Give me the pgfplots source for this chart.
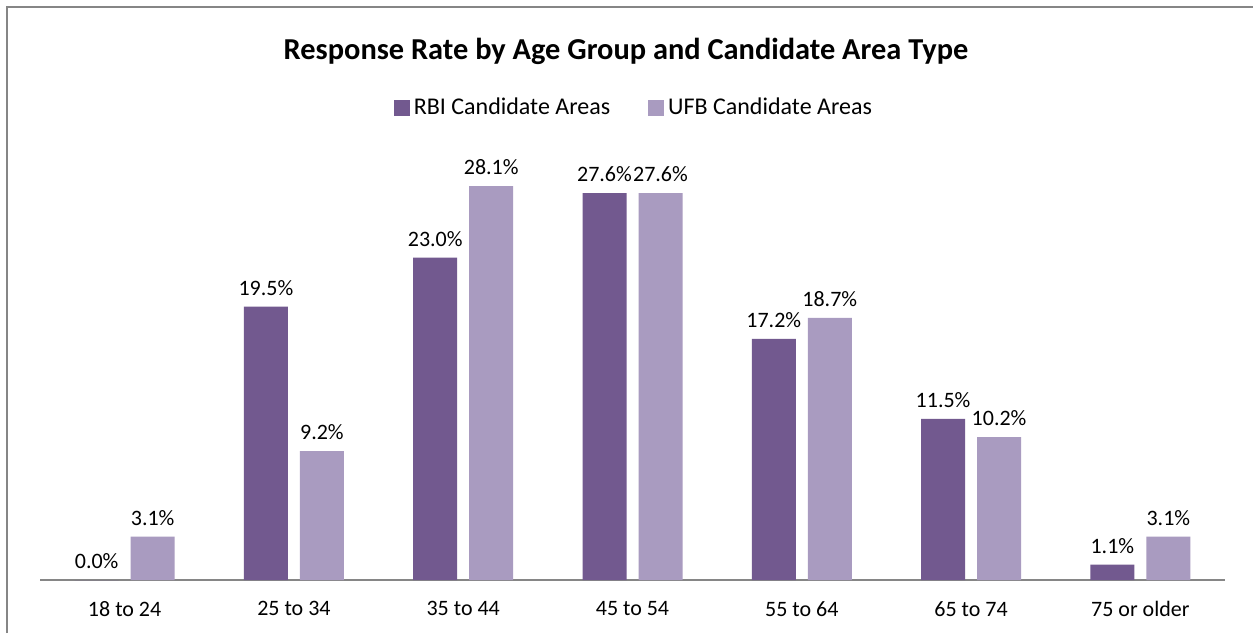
\documentclass[border=0pt]{standalone}
\usepackage{pgfplots}
\pgfplotsset{compat=1.18}
\usepackage{fontspec}
\setmainfont{Carlito}
\definecolor{rbi}{RGB}{114,89,143}
\definecolor{ufb}{RGB}{169,155,192}
\definecolor{frame}{RGB}{134,134,134}
\begin{document}
\begin{tikzpicture}
\useasboundingbox (0,0) rectangle (626.5pt,316.5pt);
\fill[white] (0,0) rectangle (626.5pt,316.5pt);
\draw[frame,line width=1pt] (3.25pt,0) -- (3.25pt,313pt) -- (626.5pt,313pt);
\begin{axis}[
  at={(20pt,26.5pt)}, anchor=south west,
  scale only axis, width=592.5pt, height=210.3pt,
  ybar=6pt, bar width=22pt,
  xmin=-0.5, xmax=6.5, ymin=0, ymax=30,
  axis x line*=bottom, axis y line=none,
  x axis line style={frame,line width=0.75pt,-},
  xtick=data, xtick style={draw=none},
  xticklabels={18 to 24,25 to 34,35 to 44,45 to 54,55 to 64,65 to 74,75 or older},
  xticklabel style={font=\fontsize{11}{13}\selectfont, yshift=-3pt},
  /pgf/number format/assume math mode=true,
  nodes near coords={\pgfmathprintnumber[fixed,fixed zerofill,precision=1]{\pgfplotspointmeta}\%},
  nodes near coords style={font=\fontsize{11}{13}\selectfont, black, yshift=2pt},
  legend style={at={(0.502,1.122)}, anchor=center, draw=none, legend columns=2,
    font=\fontsize{12}{14}\selectfont,
    /tikz/every even column/.append style={column sep=17pt}},
  legend image code/.code={\fill[#1] (0pt,-4pt) rectangle (8pt,4pt);},
]
\addplot[fill=rbi, draw=none] coordinates {(0,0.0) (1,19.5) (2,23.0) (3,27.6) (4,17.2) (5,11.5) (6,1.1)};
\addplot[fill=ufb, draw=none] coordinates {(0,3.1) (1,9.2) (2,28.1) (3,27.6) (4,18.7) (5,10.2) (6,3.1)};
\legend{RBI Candidate Areas, UFB Candidate Areas}
\end{axis}
\node[font=\bfseries\fontsize{15.2}{17}\selectfont] at (313pt,291pt) {Response Rate by Age Group and Candidate Area Type};
\end{tikzpicture}
\end{document}
